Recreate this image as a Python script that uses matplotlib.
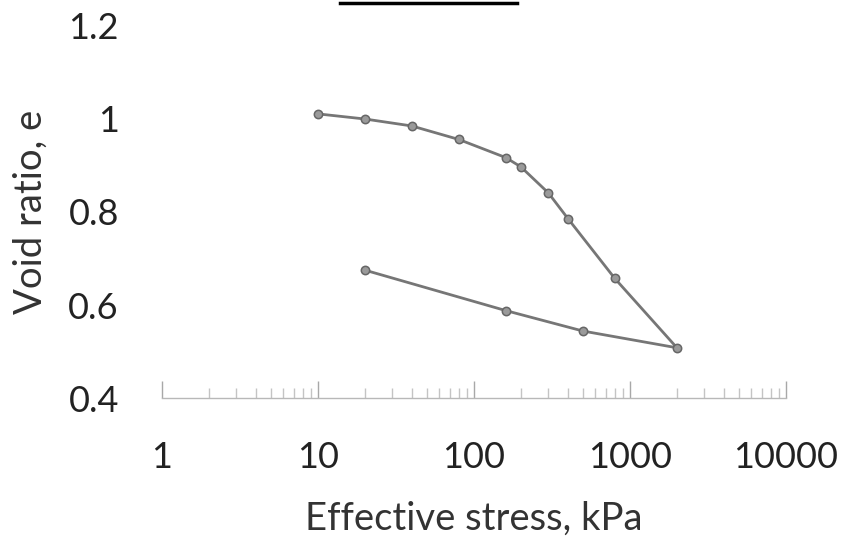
import matplotlib.pyplot as plt
from matplotlib.lines import Line2D
from matplotlib.ticker import LogLocator, FixedLocator, FixedFormatter

# oedometer test: loading then unloading
stress = [10, 20, 40, 80, 160, 200, 300, 400, 800, 2000, 500, 160, 20]
void_ratio = [1.011, 1.0, 0.985, 0.956, 0.917, 0.897, 0.841, 0.786, 0.657, 0.508,
              0.544, 0.588, 0.675]

x_ticks = [1, 10, 100, 1000, 10000]
x_labels = ['1', '10', '100', '1000', '10000']
y_ticks = [0.4, 0.6, 0.8, 1.0, 1.2]
y_labels = ['0.4', '0.6', '0.8', '1', '1.2']

plt.rcParams['font.family'] = ['Lato', 'DejaVu Sans']

fig = plt.figure(figsize=(8.43, 5.38), dpi=100)
ax = fig.add_axes([0.192, 0.2602, 0.7404, 0.6915])

ax.plot(stress, void_ratio, color='#767676', linewidth=2.0,
        marker='o', markersize=6, markerfacecolor='#9a9a9a',
        markeredgecolor='#666666', markeredgewidth=1.1)

ax.set_xscale('log')
ax.set_xlim(1, 10000)
ax.set_ylim(0.4, 1.2)

ax.xaxis.set_major_locator(FixedLocator(x_ticks))
ax.xaxis.set_major_formatter(FixedFormatter(x_labels))
ax.xaxis.set_minor_locator(LogLocator(base=10, subs=range(2, 10)))
ax.set_yticks(y_ticks)
ax.set_yticklabels(y_labels)

for s in ['top', 'right', 'left']:
    ax.spines[s].set_visible(False)
ax.spines['bottom'].set_color('#b8b8b8')
ax.spines['bottom'].set_linewidth(1.0)

ax.tick_params(axis='x', which='major', direction='in', length=12, width=1,
               color='#a8a8a8', labelsize=26, pad=31, labelcolor='#222222')
ax.tick_params(axis='x', which='minor', direction='in', length=7, width=1,
               color='#c4c4c4')
ax.tick_params(axis='y', length=0, labelsize=26, pad=31, labelcolor='#222222')

ax.set_xlabel('Effective stress, kPa', fontsize=27.5, color='#333333', labelpad=19)
ax.set_ylabel('Void ratio, e', fontsize=27.5, color='#333333', labelpad=14)

# underline of the cropped title at the top edge
fig.add_artist(Line2D([340 / 843, 517 / 843], [1 - 3 / 538, 1 - 3 / 538],
                      transform=fig.transFigure, color='black', linewidth=2.5))

plt.savefig('out.png', dpi=100)
